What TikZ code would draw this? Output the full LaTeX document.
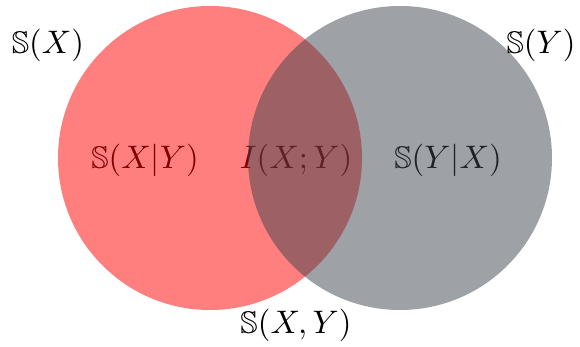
\documentclass[tikz,border=0pt]{standalone}
\usepackage{amssymb}
\definecolor{setgray}{RGB}{61,67,75}
\begin{document}
\begin{tikzpicture}[x=0.307pt,y=-0.307pt,
  lbl/.style={inner sep=0pt, font=\fontsize{9.6}{11.5}\selectfont},
  setcirc/.style={circle, minimum size=304*0.307pt, inner sep=0pt, fill opacity=0.5, draw=none}]
\useasboundingbox (0,0) rectangle (580,347);
\node[lbl] (sxy) at (145,160) {$\mathbb{S}(X|Y)$};
\node[lbl] (ixy) at (296,160) {$I(X;Y)$};
\node[lbl] (syx) at (448,160) {$\mathbb{S}(Y|X)$};
\node[setcirc, fill=red] (cx) at (210,158) {};
\node[setcirc, fill=setgray] (cy) at (400,158) {};
\node[lbl] (sx) at (48,45) {$\mathbb{S}(X)$};
\node[lbl] (sy) at (541,45) {$\mathbb{S}(Y)$};
\node[lbl] (sjoint) at (296,325) {$\mathbb{S}(X,Y)$};
\end{tikzpicture}
\end{document}
